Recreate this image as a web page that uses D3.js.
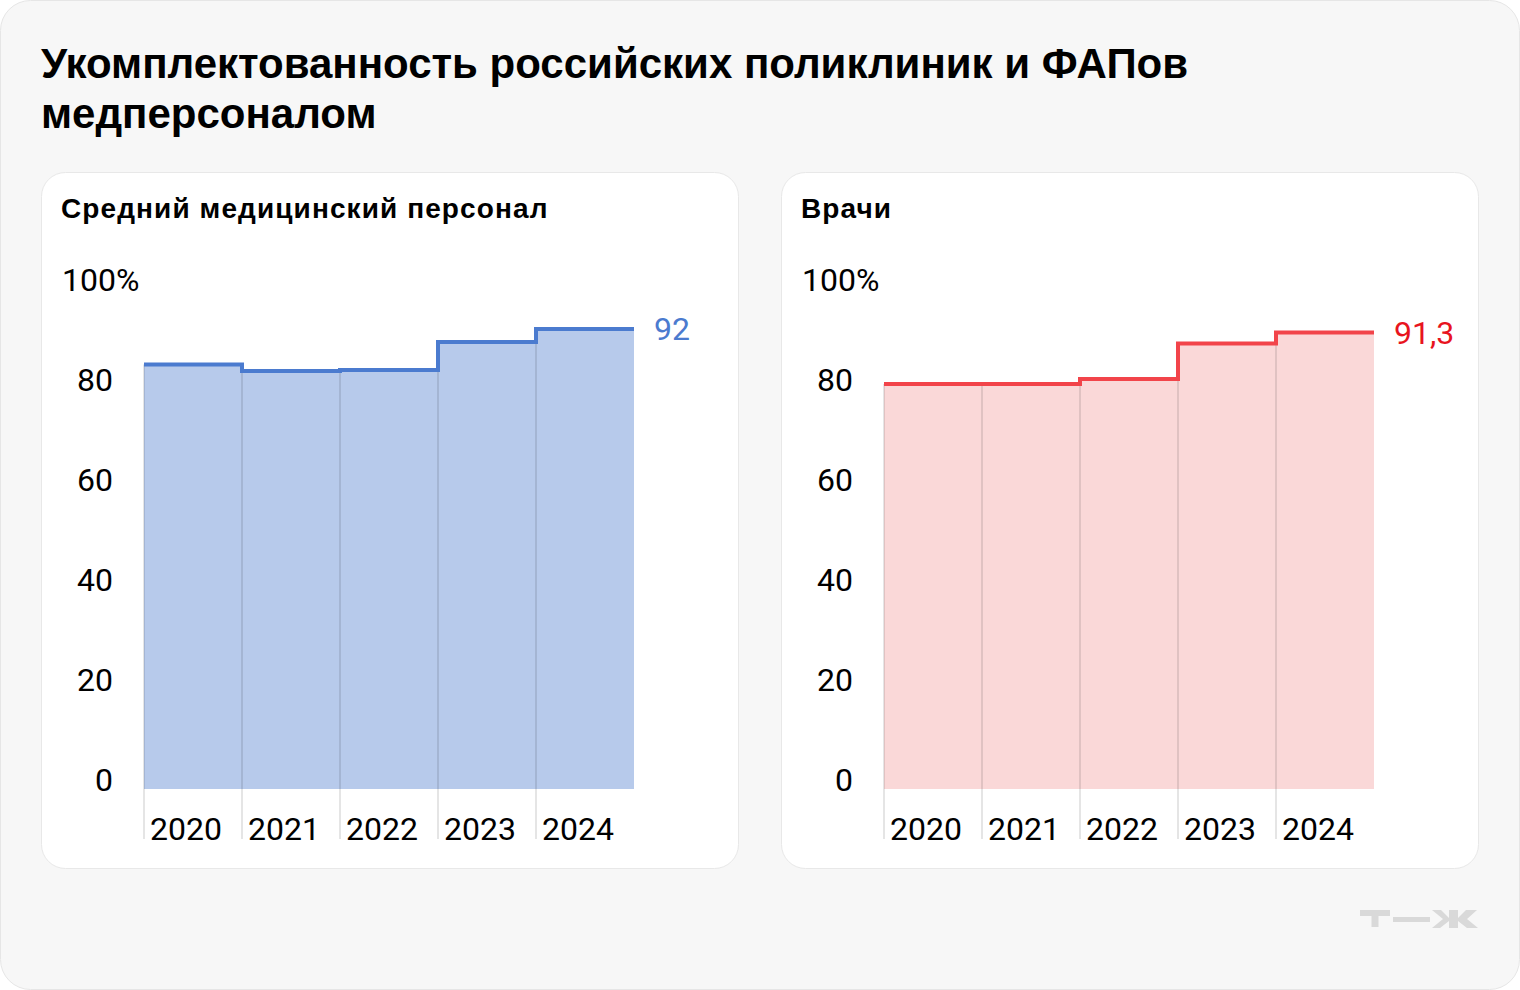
<!DOCTYPE html>
<html><head><meta charset="utf-8">
<script src="https://cdn.jsdelivr.net/npm/d3@7"></script>
<style>
html,body{margin:0;padding:0;background:#fff;}
svg{display:block;}
</style></head>
<body>
<svg id="c" width="1520" height="990"></svg>
<script>
const title1 = "Укомплектованность российских поликлиник и ФАПов";
const title2 = "медперсоналом";
const years = ["2020","2021","2022","2023","2024"];
const nurseValues = [84.9, 83.6, 83.8, 89.4, 92];
const doctorValues = [81, 81, 82, 89.1, 91.3];
const yTicks = [0, 20, 40, 60, 80, 100];
const panelTitles = ["Средний медицинский персонал", "Врачи"];
const endLabels = ["92", "91,3"];

const svg = d3.select("#c");
const FONT = "'Liberation Sans', Arial, sans-serif";
const NUMFONT = "Roboto, 'Liberation Sans', sans-serif";

svg.append("rect").attr("x",0.5).attr("y",0.5).attr("width",1519).attr("height",989)
  .attr("rx",30).attr("fill","#f7f7f7").attr("stroke","#e6e6e6");

svg.append("text").attr("x",41).attr("y",78).attr("font-family",FONT).attr("font-weight",700)
  .attr("font-size",42).attr("fill","#000").text(title1);
svg.append("text").attr("x",41).attr("y",128).attr("font-family",FONT).attr("font-weight",700)
  .attr("font-size",42).attr("fill","#000").text(title2);

const panels = [
  {x:41, values:nurseValues, line:"#4b7bcf", fill:"#b7caeb", lab:"#4b7bcf", title:panelTitles[0], end:endLabels[0]},
  {x:781, values:doctorValues, line:"#f2444a", fill:"#fad8d8", lab:"#e8141e", title:panelTitles[1], end:endLabels[1]}
];

panels.forEach(p => {
  const g = svg.append("g").attr("transform",`translate(${p.x},0)`);
  g.append("rect").attr("x",0.5).attr("y",172.5).attr("width",697).attr("height",696)
    .attr("rx",24).attr("fill","#fff").attr("stroke","#e8e8e8");
  g.append("text").attr("x",20).attr("y",218).attr("font-family",FONT).attr("font-weight",700)
    .attr("font-size",28).attr("letter-spacing",1.1).attr("fill","#000").text(p.title);

  const x = d3.scaleBand().domain(years).range([103, 593]).padding(0);
  const y = d3.scaleLinear().domain([0,100]).range([748+41, 248+41]);

  // y tick labels
  yTicks.forEach(t => {
    const tx = g.append("text").attr("font-family",NUMFONT).attr("font-size",32).attr("fill","#000")
      .attr("y", y(t)+1.5);
    if (t === 100) tx.attr("x",21).attr("text-anchor","start").text(t + "%");
    else tx.attr("x",72).attr("text-anchor","end").text(t);
  });

  const pts = years.map((yr,i)=>({x:x(yr), v:p.values[i]}));
  pts.push({x:x(years[years.length-1])+x.bandwidth(), v:p.values[p.values.length-1]});

  const area = d3.area().x(d=>d.x).y0(y(0)).y1(d=>y(d.v)).curve(d3.curveStepAfter);
  g.append("path").datum(pts).attr("d",area).attr("fill",p.fill);

  // vertical separators
  g.selectAll("line.sep").data(years).enter().append("line")
    .attr("x1",d=>x(d)).attr("x2",d=>x(d))
    .attr("y1",y(0)+50).attr("y2",(d,i)=>y(Math.max(p.values[i], i>0?p.values[i-1]:0)))
    .attr("stroke","#000").attr("stroke-opacity",0.1).attr("stroke-width",2);

  const line = d3.line().x(d=>d.x).y(d=>y(d.v)).curve(d3.curveStepAfter);
  g.append("path").datum(pts).attr("d",line).attr("fill","none")
    .attr("stroke",p.line).attr("stroke-width",4);

  // x labels
  g.selectAll("text.yr").data(years).enter().append("text")
    .attr("x",d=>x(d)+6).attr("y",840).attr("font-family",NUMFONT).attr("font-size",32)
    .attr("fill","#000").text(d=>d);

  g.append("text").attr("x",x(years[years.length-1])+x.bandwidth()+20)
    .attr("y",y(p.values[p.values.length-1])+11)
    .attr("font-family",NUMFONT).attr("font-size",32).attr("fill",p.lab).text(p.end);
});

// logo
const lg = svg.append("g").attr("fill","#d9d9d9");
lg.append("path").attr("d","M1360,910H1390V916H1378.5V927H1371.5V916H1360Z");
lg.append("rect").attr("x",1393).attr("y",917).attr("width",37).attr("height",5);
lg.append("path").attr("d","M1432,910H1441L1449,918V910H1458V918L1466,910H1477L1467,919L1478,928H1467L1458,921V928H1449V921L1440,928H1432L1443,919Z");
</script>
</body></html>
